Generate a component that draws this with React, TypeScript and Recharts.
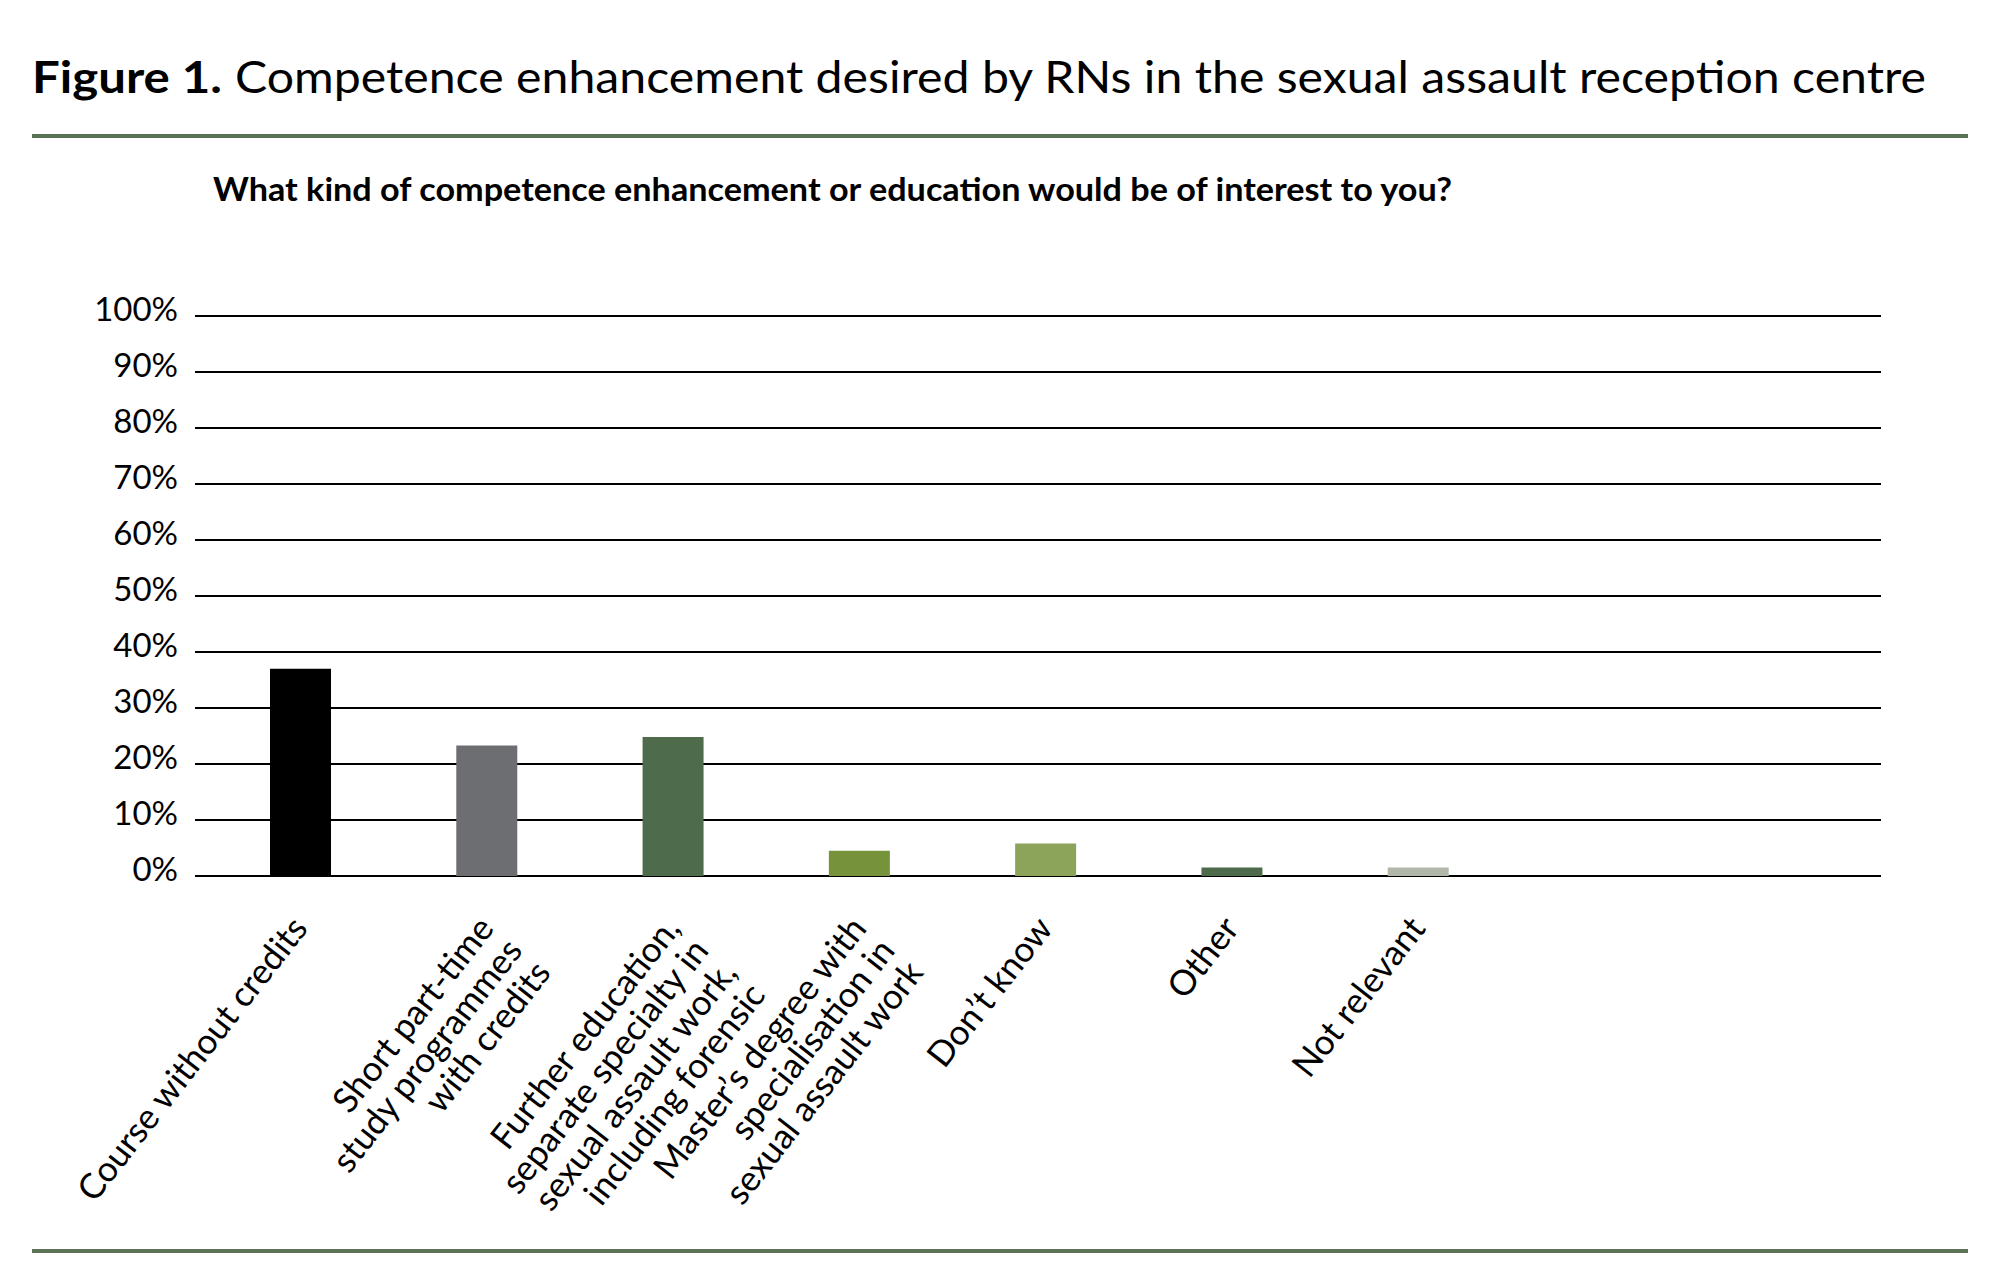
import React from 'react';
import { BarChart, Bar, XAxis, YAxis, CartesianGrid, Cell } from 'recharts';

const CATEGORIES: string[] = [
  'Course without credits',
  'Short part-time\nstudy programmes\nwith credits',
  'Further education,\nseparate specialty in\nsexual assault work,\nincluding forensic',
  'Master\u2019s degree with\nspecialisation in\nsexual assault work',
  'Don\u2019t know',
  'Other',
  'Not relevant',
];
const VALUES: number[] = [37, 23.3, 24.8, 4.5, 5.8, 1.5, 1.5];
const Y_TICKS: number[] = [0, 10, 20, 30, 40, 50, 60, 70, 80, 90, 100];
const BAR_COLORS: string[] = ['#000000', '#6d6e71', '#4e6b4b', '#76933c', '#8ca45a', '#4d6b4a', '#b1b8aa'];

const TITLE_BOLD = 'Figure 1.';
const TITLE_REST = 'Competence enhancement desired by RNs in the sexual assault reception centre';
const SUBTITLE = 'What kind of competence enhancement or education would be of interest to you?';

const data = CATEGORIES.map((name, i) => ({ name, value: VALUES[i] }));

const FONT = 'Lato, "Open Sans", sans-serif';
const RULE = '#5a7355';

const XTick = (props: any) => {
  const { x, y, payload } = props;
  const lines = String(payload.value).split('\n');
  return (
    <g transform={`translate(${x + 9},${y + 53}) rotate(-52)`}>
      <text textAnchor="end" fontFamily={FONT} fontSize={35} fill="#000">
        {lines.map((l, i) => (
          <tspan key={i} x={0} dy={i === 0 ? 0 : 36}>
            {l}
          </tspan>
        ))}
      </text>
    </g>
  );
};

const YTick = (props: any) => {
  const { x, y, payload } = props;
  return (
    <text
      x={x}
      y={y - 8}
      dominantBaseline="central"
      textAnchor="end"
      fontFamily={FONT}
      fontSize={33}
      fill="#000"
    >
      {`${payload.value}%`}
    </text>
  );
};

export default function App() {
  return (
    <div style={{ position: 'relative', width: 2000, height: 1287, background: '#fff' }}>
      <style>{'body{margin:0;background:#fff}'}</style>
      <BarChart
        width={2000}
        height={1287}
        data={data}
        margin={{ top: 316, right: 119, bottom: 111, left: 95 }}
      >
        <CartesianGrid vertical={false} stroke="#000" strokeWidth={2} strokeOpacity={1} />
        <XAxis
          dataKey="name"
          interval={0}
          padding={{ left: 12, right: 370 }}
          axisLine={false}
          tickLine={false}
          tickSize={0}
          tickMargin={0}
          height={300}
          tick={<XTick />}
        />
        <YAxis
          domain={[0, 100]}
          ticks={Y_TICKS}
          interval={0}
          width={100}
          axisLine={false}
          tickLine={false}
          tickSize={0}
          tickMargin={17}
          tick={<YTick />}
        />
        <Bar dataKey="value" barSize={61} isAnimationActive={false}>
          {data.map((d, i) => (
            <Cell key={d.name} fill={BAR_COLORS[i]} />
          ))}
        </Bar>
      </BarChart>
      <svg
        width={2000}
        height={1287}
        style={{ position: 'absolute', left: 0, top: 0, pointerEvents: 'none' }}
      >
        <text
          x={32}
          y={93}
          fontFamily={FONT}
          fontSize={44}
          fontWeight="bold"
          fill="#000"
          textLength={190}
          lengthAdjust="spacingAndGlyphs"
        >
          {TITLE_BOLD}
        </text>
        <text
          x={235}
          y={93}
          fontFamily={FONT}
          fontSize={44}
          fill="#000"
          textLength={1691}
          lengthAdjust="spacingAndGlyphs"
        >
          {TITLE_REST}
        </text>
        <rect x={32} y={134} width={1936} height={4} fill={RULE} />
        <text
          x={213}
          y={201}
          fontFamily={FONT}
          fontSize={32}
          fontWeight="bold"
          fill="#000"
          textLength={1239}
          lengthAdjust="spacingAndGlyphs"
        >
          {SUBTITLE}
        </text>
        <rect x={32} y={1249} width={1936} height={4} fill={RULE} />
      </svg>
    </div>
  );
}
